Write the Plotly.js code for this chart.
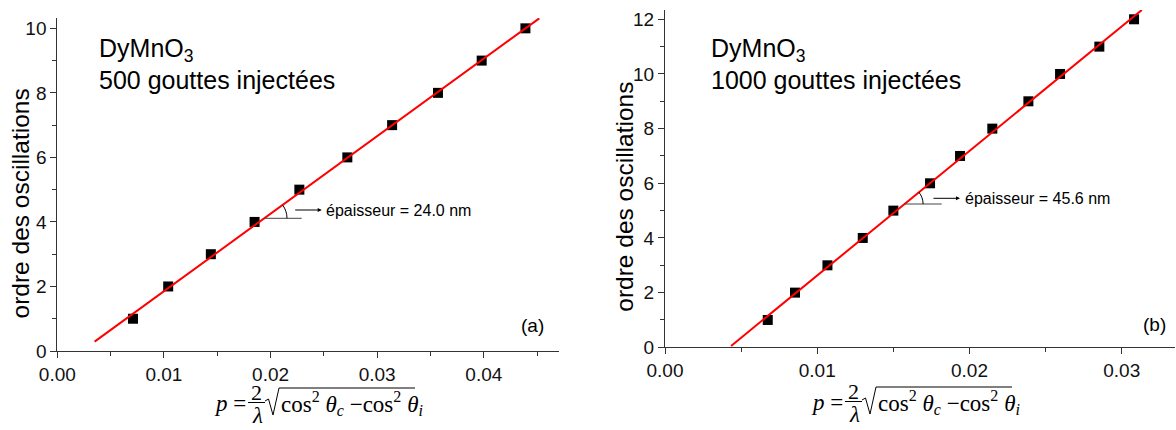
<!DOCTYPE html>
<html><head><meta charset="utf-8">
<script src="https://cdn.plot.ly/plotly-3.0.1.min.js"></script>
<style>html,body{margin:0;padding:0;background:#fff}</style>
</head><body><div id="chart" style="width:1176px;height:430px"></div>
<script>
// ---- data ----
const orderA = [1, 2, 3, 4, 5, 6, 7, 8, 9, 10];
const pA = [0.0071, 0.0104, 0.0144, 0.0185, 0.0227, 0.0272, 0.0314, 0.0357, 0.0398, 0.0439];
const fitA_p = [0.0035, 0.0452];
const fitA_order = [0.29, 10.31];

const orderB = [1, 2, 3, 4, 5, 6, 7, 8, 9, 10, 11, 12];
const pB = [0.00675, 0.00854, 0.01067, 0.01299, 0.0150, 0.01741, 0.01938, 0.0215, 0.02387, 0.02595, 0.02853, 0.03081];
const fitB_p = [0.00434, 0.03132];
const fitB_order = [0.05, 12.34];

const yTitle = 'ordre des oscillations';
const sampleA = ['DyMnO<sub>3</sub>', '500 gouttes injectées'];
const sampleB = ['DyMnO<sub>3</sub>', '1000 gouttes injectées'];
const thickA = 'épaisseur = 24.0 nm';
const thickB = 'épaisseur = 45.6 nm';
const panelA = '(a)', panelB = '(b)';

// ---- layout helpers ----
const W = 1176, H = 430;
const px = v => v / W;
const py = v => 1 - v / H;
const SANS = 'Liberation Sans, Arial, sans-serif';
const SERIF = 'Liberation Serif, Times New Roman, serif';
const AX = '#333';

function axisX(domain, range, anchor) {
  return {
    domain: domain, range: range, anchor: anchor, showline: true, linecolor: AX, linewidth: 1,
    ticks: 'outside', ticklen: 6, tickwidth: 1, tickcolor: AX, tick0: 0, dtick: 0.01, tickformat: '.2f',
    minor: {dtick: 0.005, ticks: 'outside', ticklen: 4, tickcolor: AX, tickwidth: 1, showgrid: false},
    showgrid: false, zeroline: false, fixedrange: true,
    tickfont: {family: SANS, size: 19, color: '#111'}
  };
}
function axisY(domain, range, anchor) {
  return {
    domain: domain, range: range, anchor: anchor, showline: true, linecolor: AX, linewidth: 1,
    ticks: 'outside', ticklen: 6, tickwidth: 1, tickcolor: AX, tick0: 0, dtick: 2,
    minor: {dtick: 1, ticks: 'outside', ticklen: 4, tickcolor: AX, tickwidth: 1, showgrid: false},
    showgrid: false, zeroline: false, fixedrange: true,
    tickfont: {family: SANS, size: 19, color: '#111'}
  };
}

const traces = [
  {x: pA, y: orderA, xaxis: 'x', yaxis: 'y', mode: 'markers', type: 'scatter',
   marker: {symbol: 'square', size: 10, color: '#000'}, showlegend: false, cliponaxis: false},
  {x: fitA_p, y: fitA_order, xaxis: 'x', yaxis: 'y', mode: 'lines', type: 'scatter',
   line: {color: '#ff0000', width: 2}, showlegend: false},
  {x: pB, y: orderB, xaxis: 'x2', yaxis: 'y2', mode: 'markers', type: 'scatter',
   marker: {symbol: 'square', size: 10, color: '#000'}, showlegend: false, cliponaxis: false},
  {x: fitB_p, y: fitB_order, xaxis: 'x2', yaxis: 'y2', mode: 'lines', type: 'scatter',
   line: {color: '#ff0000', width: 2}, showlegend: false}
];

const annotations = [];
const shapes = [];
function txt(text, x, y, size, family, opts) {
  annotations.push(Object.assign({
    text: text, xref: 'paper', yref: 'paper', x: px(x), y: py(y),
    xanchor: 'left', yanchor: 'middle', showarrow: false, borderpad: 0,
    font: {family: family, size: size, color: '#000'}
  }, opts || {}));
}
function seg(x0, y0, x1, y1, color) {
  shapes.push({type: 'line', xref: 'paper', yref: 'paper', x0: px(x0), y0: py(y0), x1: px(x1), y1: py(y1),
    line: {color: color || '#000', width: 1}});
}
function arc(cx, cy, r, degEnd) {
  const t = degEnd * Math.PI / 180, k = 4 / 3 * Math.tan(t / 4) * r;
  const P0 = [cx + r, cy], P1 = [cx + r, cy - k];
  const P3 = [cx + r * Math.cos(t), cy - r * Math.sin(t)];
  const P2 = [P3[0] + k * Math.sin(t), P3[1] + k * Math.cos(t)];
  const f = p => px(p[0]) + ',' + py(p[1]);
  shapes.push({type: 'path', xref: 'paper', yref: 'paper',
    path: 'M' + f(P0) + ' C' + f(P1) + ' ' + f(P2) + ' ' + f(P3), line: {color: '#000', width: 1}});
}
function formula(x0, dy) {
  txt('<i>p</i> =', x0, 403 + dy, 23, SERIF);
  txt('2', x0 + 43.5, 392.5 + dy, 22, SERIF, {xanchor: 'center'});
  seg(x0 + 35, 402.5 + dy, x0 + 52, 402.5 + dy);
  txt('<i>λ</i>', x0 + 44, 415.5 + dy, 23, SERIF, {xanchor: 'center'});
  const f = (a, b) => px(x0 + a) + ',' + py(b + dy);
  shapes.push({type: 'path', xref: 'paper', yref: 'paper',
    path: 'M' + f(52, 401) + ' L' + f(55.5, 399) + ' L' + f(60, 415) + ' L' + f(66, 388) + ' L' + f(202, 388),
    line: {color: '#000', width: 1}});
  txt('cos<sup>2</sup> <i>θ</i><sub><i>c</i></sub> −cos<sup>2</sup> <i>θ</i><sub><i>i</i></sub>', x0 + 67, 403 + dy, 23, SERIF);
}

// panel (a)
txt(sampleA[0], 98, 50, 25, SANS);
txt(sampleA[1], 98, 80, 25, SANS);
txt(yTitle, 20, 203.5, 24.5, SANS, {xanchor: 'center', textangle: -90});
txt(panelA, 532.5, 325.5, 19, SANS, {xanchor: 'center'});
formula(213, 0);
seg(264.5, 218.3, 301.7, 218.3, '#444');
arc(264.5, 218.3, 22.5, 35.9);
annotations.push({text: '', xref: 'paper', yref: 'paper', x: px(321.7), y: py(210), axref: 'pixel', ayref: 'pixel',
  ax: -28, ay: 0, showarrow: true, arrowhead: 2, arrowsize: 0.8, arrowwidth: 1, arrowcolor: '#000'});
txt(thickA, 325, 210, 16, SANS);

// panel (b)
txt(sampleB[0], 710, 50, 25, SANS);
txt(sampleB[1], 710, 80, 25, SANS);
txt(yTitle, 625, 196.7, 24.5, SANS, {xanchor: 'center', textangle: -90});
txt(panelB, 1154.7, 324.8, 19, SANS, {xanchor: 'center'});
formula(810, -1);
seg(904.6, 204, 941.7, 204, '#444');
arc(904.6, 204, 18.5, 39.3);
annotations.push({text: '', xref: 'paper', yref: 'paper', x: px(960), y: py(198.3), axref: 'pixel', ayref: 'pixel',
  ax: -28, ay: 0, showarrow: true, arrowhead: 2, arrowsize: 0.8, arrowwidth: 1, arrowcolor: '#000'});
txt(thickB, 964, 198.3, 16, SANS);

const layout = {
  width: W, height: H, margin: {l: 0, r: 0, t: 0, b: 0, pad: 0},
  paper_bgcolor: '#fff', plot_bgcolor: '#fff', showlegend: false,
  xaxis: axisX([px(57.3), px(559)], [0, 0.04705], 'y'),
  yaxis: axisY([py(351), py(18)], [0, 10.32], 'x'),
  xaxis2: axisX([px(665), px(1175)], [0, 0.0335], 'y2'),
  yaxis2: axisY([py(347.3), py(10)], [0, 12.34], 'x2'),
  annotations: annotations, shapes: shapes
};
Plotly.newPlot('chart', traces, layout, {displayModeBar: false, staticPlot: true});
</script></body></html>
